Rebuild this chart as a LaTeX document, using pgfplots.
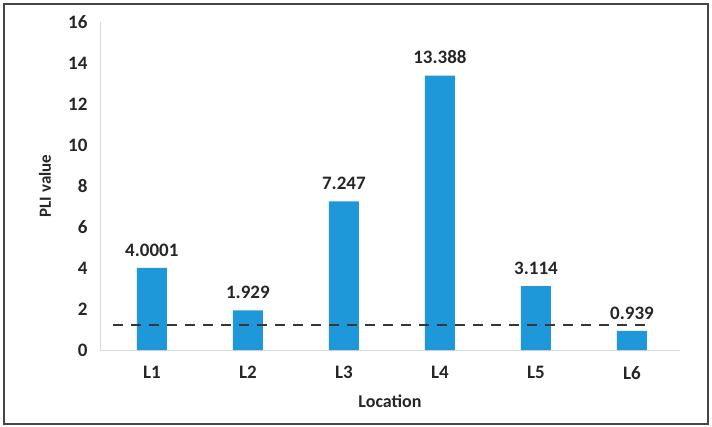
\documentclass[border=0pt]{standalone}
\usepackage{pgfplots}
\pgfplotsset{compat=1.18}
\usepackage{fontspec}
\setmainfont{Carlito}
\definecolor{barblue}{RGB}{30,152,216}
\definecolor{axgray}{RGB}{217,217,217}
\definecolor{dashgray}{RGB}{55,55,55}
\definecolor{framegray}{RGB}{70,70,70}
\begin{document}
\begin{tikzpicture}
\path[use as bounding box] (0,0) rectangle (712bp,427bp);
\draw[framegray, line width=1.5bp] (4bp,3bp) rectangle (708bp,423bp);
\begin{axis}[
  at={(100bp,77bp)}, anchor=south west,
  scale only axis, width=580bp, height=328bp,
  xmin=-0.54, xmax=5.5, ymin=0, ymax=16,
  ytick={0,2,...,16},
  xtick={0,1,2,3,4,5},
  xticklabels={L1,L2,L3,L4,L5,L6},
  axis lines*=left,
  axis line style={axgray, line width=1bp},
  x axis line style={-}, y axis line style={-},
  major tick length=0pt,
  tick style={draw=none},
  /pgf/number format/assume math mode=true,
  ticklabel style={font=\fontsize{19bp}{22bp}\selectfont\bfseries, text=black!85},
  yticklabel style={xshift=-9bp},
  xticklabel style={yshift=-13bp},
  xlabel={Location},
  ylabel={PLI value},
  xlabel style={font=\fontsize{18bp}{21bp}\selectfont\bfseries, text=black!85, at={(axis description cs:0.5,-0.155)}, anchor=center},
  ylabel style={font=\fontsize{17bp}{20bp}\selectfont\bfseries, text=black!85, at={(axis description cs:-0.095,0.5)}, anchor=center},
  clip=false,
]
\addplot[ybar, bar width=30bp, fill=barblue, draw=none,
  nodes near coords,
  point meta=explicit symbolic,
  every node near coord/.append style={font=\fontsize{19bp}{22bp}\selectfont\bfseries, text=black!85, yshift=8bp}]
  coordinates {(0,4.0001)[4.0001] (1,1.929)[1.929] (2,7.247)[7.247] (3,13.388)[13.388] (4,3.114)[3.114] (5,0.939)[0.939]};
\addplot[dashgray, line width=2bp, dash pattern=on 10bp off 8bp]
  coordinates {(-0.4,1.2) (5.18,1.2)};
\end{axis}
\end{tikzpicture}
\end{document}
